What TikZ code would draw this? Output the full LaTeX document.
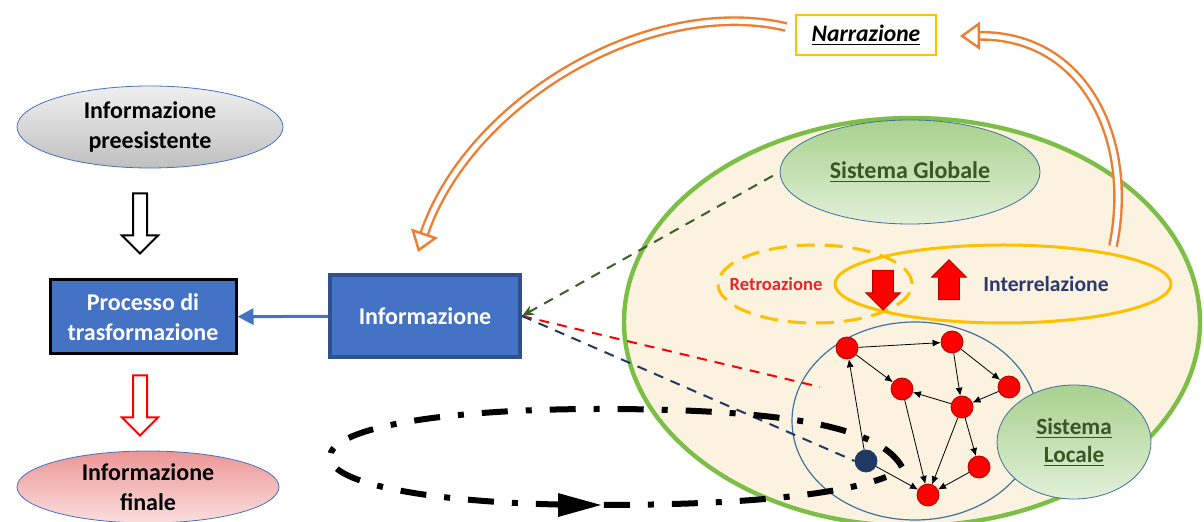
\documentclass[tikz,border=0pt]{standalone}
\usepackage{fontspec}
\setmainfont{Carlito}
\usetikzlibrary{shapes.geometric,shapes.arrows,arrows.meta,decorations.markings,positioning}

\definecolor{boxblue}{RGB}{68,114,196}
\definecolor{boxedge}{RGB}{47,82,143}
\definecolor{leafgreen}{RGB}{124,190,70}
\definecolor{paper}{RGB}{251,242,224}
\definecolor{sysgreen}{RGB}{56,87,35}
\definecolor{sysedge}{RGB}{65,113,156}
\definecolor{gold}{RGB}{255,192,0}
\definecolor{arcorange}{RGB}{237,125,49}
\definecolor{navy}{RGB}{31,56,100}
\definecolor{linkgreen}{RGB}{59,94,43}
\definecolor{textnavy}{RGB}{46,58,110}
\definecolor{retrored}{RGB}{232,38,42}

\begin{document}
\begin{tikzpicture}[x=0.5pt, y=-0.5pt,
  every node/.style={font=\bfseries\fontsize{12}{15}\selectfont, align=center},
  oval/.style={ellipse, draw=boxblue, thin, inner sep=0pt},
  bluebox/.style={rectangle, fill=boxblue, text=white, inner sep=0pt},
  hollowdown/.style={single arrow, rotate=-90, fill=white, line width=1pt,
    inner sep=3pt, single arrow head extend=5.5pt, minimum height=30pt},
  redarrow/.style={single arrow, fill=red, draw=red!70!black,
    inner sep=5pt, single arrow head extend=3.5pt, minimum height=20pt},
  sysoval/.style={ellipse, draw=sysedge, inner sep=0pt, text=sysgreen,
    top color={rgb,255:red,169;green,209;blue,142}, bottom color={rgb,255:red,226;green,240;blue,217}},
  netnode/.style={circle, fill=red, draw=red!70!black, minimum size=11pt, inner sep=0pt},
  netedge/.style={-{Latex[length=4pt,width=3.5pt]}, line width=0.4pt},
  linkdash/.style={line width=1pt, dash pattern=on 5pt off 4pt},
  orangearc/.style={draw=arcorange, double=white, line width=1.2pt, double distance=2.5pt,
    -{Triangle[open, length=10pt, width=14pt]}}
]
  \useasboundingbox (0,0) rectangle (1204,522);
  \clip (0,0) rectangle (1204,522);

  % Global system
  \draw[leafgreen, line width=2.2pt, fill=paper] (912,322) ellipse (288 and 204);
  \node[sysoval, minimum width=130pt, minimum height=52pt] (glob) at (910,172) {\underline{Sistema Globale}};

  % Narration
  \node[draw=gold, fill=white, line width=1.2pt, minimum width=70pt, minimum height=20pt,
    font=\bfseries\itshape\fontsize{11.8}{13}\selectfont] (narr) at (866,35) {\underline{Narrazione}};
  \coordinate (ltail) at (786,27);
  \coordinate (lhead) at (418,252);
  \coordinate (rtail) at (1113,246);
  \coordinate (rhead) at (960,36);
  \draw[orangearc] (ltail) .. controls (650,-5) and (470,100) .. (lhead);
  \draw[orangearc] (rtail) .. controls (1135,140) and (1085,35) .. (rhead);

  % Feedback and interrelation
  \node[ellipse, draw=gold, line width=1.5pt, dash pattern=on 9pt off 5pt,
    minimum width=97pt, minimum height=39pt] (retro) at (815,284) {};
  \node[ellipse, draw=gold, line width=1.5pt,
    minimum width=168pt, minimum height=39pt] (inter) at (1003,284) {};
  \node[text=retrored, font=\bfseries\fontsize{9.3}{11}\selectfont] (retrotxt) at (776,284) {Retroazione};
  \node[text=textnavy, font=\bfseries\fontsize{10.8}{13}\selectfont] (intertxt) at (1046,284) {Interrelazione};
  \node[redarrow, rotate=-90] (down) at (883,285) {};
  \node[redarrow, rotate=90] (up) at (949,285) {};

  % Local system (network)
  \draw[sysedge, line width=0.6pt] (915,421) ellipse (123 and 99);
  \node[netnode] (n1) at (847,348) {};
  \node[netnode] (n2) at (952,342) {};
  \node[netnode] (n3) at (902,389) {};
  \node[netnode] (n4) at (1009,387) {};
  \node[netnode] (n5) at (962,407) {};
  \node[netnode] (n6) at (979,467) {};
  \node[netnode] (n7) at (928,495) {};
  \node[netnode, fill=navy, draw=navy] (n8) at (866,461) {};
  \draw[netedge] (n1) -- (n2);
  \draw[netedge] (n2) -- (n4);
  \draw[netedge] (n2) -- (n5);
  \draw[netedge] (n1) -- (n3);
  \draw[netedge, {Latex[length=4pt,width=3.5pt]}-] (n3) -- (n5);
  \draw[netedge, {Latex[length=4pt,width=3.5pt]}-] (n5) -- (n4);
  \draw[netedge] (n3) -- (n7);
  \draw[netedge] (n5) -- (n7);
  \draw[netedge] (n5) -- (n6);
  \draw[netedge] (n6) -- (n7);
  \draw[netedge] (n8) -- (n1);
  \draw[netedge] (n8) -- (n7);
  \node[sysoval, minimum width=77pt, minimum height=57pt,
    font=\bfseries\fontsize{11.6}{14}\selectfont] (loc) at (1074,442) {\underline{Sistema}\\\underline{Locale}};

  % Information box and links
  \node[bluebox, draw=boxedge, line width=2pt, minimum width=95pt, minimum height=41pt] (info) at (425,316) {Informazione};
  \coordinate (redend) at (820,387);
  \draw[linkdash, linkgreen, {Stealth[length=6pt,width=5pt]}-] (info.east) -- (glob.west);
  \draw[linkdash, red] (info.east) -- (redend);
  \draw[linkdash, navy] (info.east) -- (n8.west);

  % Loop
  \draw[line width=3pt, dash pattern=on 13pt off 9pt on 3pt off 9pt,
    decoration={markings, mark=at position 0.755 with {\arrow{Triangle[length=22pt,width=11pt]}}},
    postaction={decorate}]
    (902,467) .. controls (880,428) and (790,409) .. (600,409)
    .. controls (430,409) and (330,430) .. (330,457)
    .. controls (330,485) and (440,505) .. (600,505)
    .. controls (740,505) and (840,495) .. (886,477);

  % Left column
  \node[oval, minimum width=133pt, minimum height=41pt, top color=gray!12, bottom color=gray!50] (pre) at (150,127) {Informazione\\preesistente};
  \node[hollowdown, draw=black] (a1) at (140,220) {};
  \node[bluebox, draw=black, line width=1.5pt, minimum width=93pt, minimum height=37pt] (proc) at (143,317) {Processo di\\trasformazione};
  \node[hollowdown, draw=red] (a2) at (140,402) {};
  \node[oval, minimum width=131pt, minimum height=36pt,
    top color={rgb,255:red,236;green,150;blue,150}, bottom color={rgb,255:red,251;green,222;blue,222}] (fin) at (148,487) {Informazione\\finale};
  \draw[boxblue, line width=1.5pt, -{Triangle[length=8pt,width=8pt]}] (info) -- (proc);
\end{tikzpicture}
\end{document}
